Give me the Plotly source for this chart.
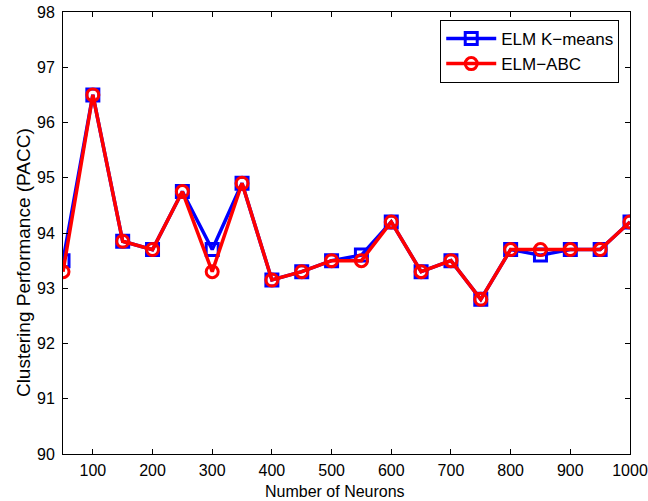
import plotly.graph_objects as go

neurons = [50, 100, 150, 200, 250, 300, 350, 400, 450, 500, 550, 600, 650, 700, 750, 800, 850, 900, 950, 1000]
elm_kmeans = [93.5, 96.5, 93.85, 93.7, 94.75, 93.7, 94.9, 93.15, 93.3, 93.5, 93.6, 94.2, 93.3, 93.5, 92.8, 93.7, 93.6, 93.7, 93.7, 94.2]
elm_abc = [93.3, 96.5, 93.85, 93.7, 94.75, 93.3, 94.9, 93.15, 93.3, 93.5, 93.5, 94.2, 93.3, 93.5, 92.8, 93.7, 93.7, 93.7, 93.7, 94.2]
x_ticks = [100, 200, 300, 400, 500, 600, 700, 800, 900, 1000]
y_ticks = [90, 91, 92, 93, 94, 95, 96, 97, 98]
x_title = "Number of Neurons"
y_title = "Clustering Performance (PACC)"

font = "Liberation Sans, Arial, Helvetica, sans-serif"

fig = go.Figure()
fig.add_trace(go.Scatter(
    x=neurons, y=elm_kmeans, mode="lines+markers", name="ELM K\u2212means",
    line=dict(color="#0000ff", width=3.5),
    marker=dict(symbol="square-open", size=12, color="#0000ff", line=dict(width=3, color="#0000ff")),
))
fig.add_trace(go.Scatter(
    x=neurons, y=elm_abc, mode="lines+markers", name="ELM\u2212ABC",
    line=dict(color="#ff0000", width=3.5),
    marker=dict(symbol="circle-open", size=12, color="#ff0000", line=dict(width=3, color="#ff0000")),
))

axis_common = dict(
    showgrid=False, zeroline=False, showline=True, linecolor="black", linewidth=1,
    mirror="ticks", ticks="inside", ticklen=5, tickcolor="black", tickwidth=1,
    tickfont=dict(family=font, size=16, color="black"), automargin=False,
)
fig.update_xaxes(range=[50, 1000], tickvals=x_ticks, ticklabelstandoff=2, **axis_common)
fig.update_yaxes(range=[90, 98], tickvals=y_ticks, ticklabelstandoff=4, **axis_common)

fig.add_annotation(text=x_title, xref="paper", yref="paper", x=0.48, y=-0.084,
                   xanchor="center", yanchor="middle", showarrow=False,
                   font=dict(family=font, size=16, color="black"))
fig.add_annotation(text=y_title, xref="paper", yref="paper", x=-0.0705, y=0.432,
                   xanchor="center", yanchor="middle", showarrow=False, textangle=-90,
                   font=dict(family=font, size=19, color="black"))

fig.update_layout(
    width=648, height=501,
    margin=dict(l=63, r=18, t=12, b=47),
    paper_bgcolor="white", plot_bgcolor="white",
    font=dict(family=font, size=16, color="black"),
    legend=dict(x=0.981, y=0.982, xanchor="right", yanchor="top",
                bgcolor="white", bordercolor="black", borderwidth=1,
                font=dict(family=font, size=17, color="black"),
                tracegroupgap=0, itemwidth=50),
    showlegend=True,
)

fig.write_html("out.html")
